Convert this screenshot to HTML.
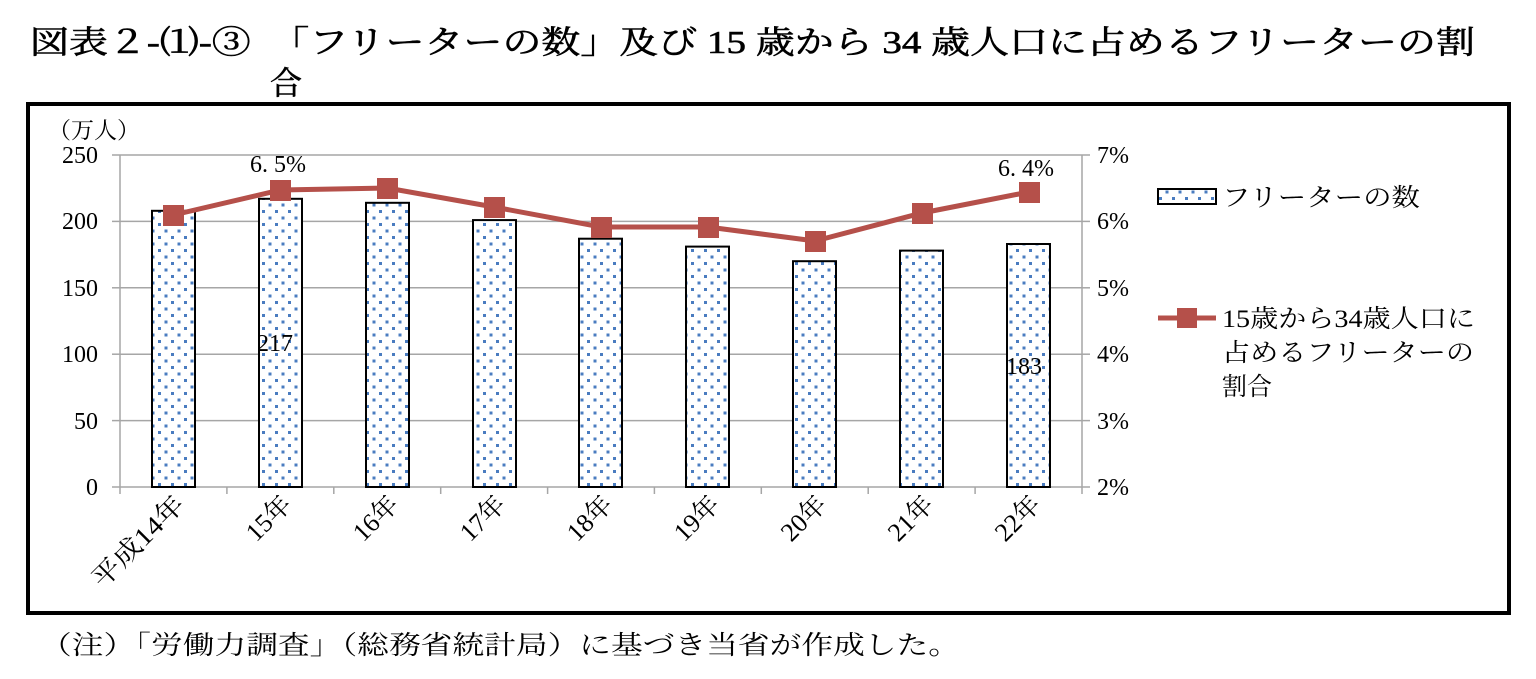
<!DOCTYPE html>
<html><head><meta charset="utf-8"><style>
body{margin:0;background:#fff;width:1536px;height:679px;overflow:hidden}
svg{display:block}
text{font-family:"Liberation Serif","Noto Serif CJK JP","Noto Serif CJK SC",serif;fill:#000}
</style></head><body>
<svg width="1536" height="679" viewBox="0 0 1536 679">
<defs>
<pattern id="dots" width="13" height="13" patternUnits="userSpaceOnUse">
<rect width="13" height="13" fill="#fff"/>
<rect x="2" y="2" width="3" height="3" fill="#4a7cc0"/>
<rect x="8.5" y="8.5" width="3" height="3" fill="#4a7cc0"/>
</pattern>
</defs>
<text x="30" y="53" font-size="32" stroke="#000" stroke-width="0.6" textLength="1445" lengthAdjust="spacingAndGlyphs">図表２-⑴-③　「フリーターの数」及び 15 歳から 34 歳人口に占めるフリーターの割</text>
<text x="270" y="94" font-size="32" stroke="#000" stroke-width="0.6">合</text>
<rect x="28" y="104" width="1481" height="509" fill="none" stroke="#000" stroke-width="4"/>
<g stroke="#a6a6a6" stroke-width="1.5">
<line x1="120" y1="155" x2="1082" y2="155"/>
<line x1="120" y1="221.4" x2="1082" y2="221.4"/>
<line x1="120" y1="287.8" x2="1082" y2="287.8"/>
<line x1="120" y1="354.2" x2="1082" y2="354.2"/>
<line x1="120" y1="420.6" x2="1082" y2="420.6"/>
<line x1="120" y1="155" x2="120" y2="487"/>
<line x1="1082" y1="155" x2="1082" y2="487"/>
<line x1="112" y1="487" x2="1090" y2="487"/>
<line x1="112" y1="155" x2="120" y2="155"/><line x1="112" y1="221.4" x2="120" y2="221.4"/><line x1="112" y1="287.8" x2="120" y2="287.8"/><line x1="112" y1="354.2" x2="120" y2="354.2"/><line x1="112" y1="420.6" x2="120" y2="420.6"/>
<line x1="1082" y1="155" x2="1090" y2="155"/><line x1="1082" y1="221.4" x2="1090" y2="221.4"/><line x1="1082" y1="287.8" x2="1090" y2="287.8"/><line x1="1082" y1="354.2" x2="1090" y2="354.2"/><line x1="1082" y1="420.6" x2="1090" y2="420.6"/>
<line x1="226.9" y1="487" x2="226.9" y2="494"/><line x1="333.8" y1="487" x2="333.8" y2="494"/><line x1="440.7" y1="487" x2="440.7" y2="494"/><line x1="547.6" y1="487" x2="547.6" y2="494"/><line x1="654.4" y1="487" x2="654.4" y2="494"/><line x1="761.3" y1="487" x2="761.3" y2="494"/><line x1="868.2" y1="487" x2="868.2" y2="494"/><line x1="975.1" y1="487" x2="975.1" y2="494"/><line x1="120" y1="487" x2="120" y2="494"/><line x1="1082" y1="487" x2="1082" y2="494"/>
</g>
<g font-size="24" text-anchor="end">
<text x="98" y="163">250</text><text x="98" y="229">200</text><text x="98" y="296">150</text><text x="98" y="362">100</text><text x="98" y="429">50</text><text x="98" y="495">0</text>
</g>
<g font-size="24">
<text x="1097" y="163">7%</text><text x="1097" y="229">6%</text><text x="1097" y="296">5%</text><text x="1097" y="362">4%</text><text x="1097" y="429">3%</text><text x="1097" y="495">2%</text>
</g>
<text x="48" y="138" font-size="23">（万人）</text>
<g fill="url(#dots)" stroke="#000" stroke-width="2">
<rect x="152" y="210.8" width="43" height="276.2"/>
<rect x="259" y="198.8" width="43" height="288.2"/>
<rect x="366" y="202.8" width="43" height="284.2"/>
<rect x="473" y="220.1" width="43" height="266.9"/>
<rect x="579" y="238.7" width="43" height="248.3"/>
<rect x="686" y="246.6" width="43" height="240.4"/>
<rect x="793" y="261.2" width="43" height="225.8"/>
<rect x="900" y="250.6" width="43" height="236.4"/>
<rect x="1007" y="244" width="43" height="243"/>
</g>
<polyline fill="none" stroke="#b5504a" stroke-width="5" points="173.4,215 280.3,190 387.2,188 494,207 601,227 708,227 815,241 922,213 1029,192"/>
<g fill="#b5504a">
<rect x="163" y="205" width="21" height="21"/><rect x="270" y="180" width="21" height="21"/><rect x="377" y="178" width="21" height="21"/><rect x="484" y="197" width="21" height="21"/><rect x="591" y="217" width="21" height="21"/><rect x="698" y="217" width="21" height="21"/><rect x="805" y="231" width="21" height="21"/><rect x="912" y="203" width="21" height="21"/><rect x="1019" y="182" width="21" height="21"/>
</g>
<text x="250" y="172" font-size="24">6. 5%</text>
<text x="998" y="176" font-size="24">6. 4%</text>
<text x="257" y="351" font-size="24">217</text>
<text x="1006" y="374" font-size="24">183</text>
<g font-size="26" text-anchor="end">
<text transform="translate(186,506) rotate(-45)" textLength="118" lengthAdjust="spacingAndGlyphs">平成14年</text>
<text transform="translate(293,506) rotate(-45)">15年</text>
<text transform="translate(400,506) rotate(-45)">16年</text>
<text transform="translate(507,506) rotate(-45)">17年</text>
<text transform="translate(614,506) rotate(-45)">18年</text>
<text transform="translate(721,506) rotate(-45)">19年</text>
<text transform="translate(828,506) rotate(-45)">20年</text>
<text transform="translate(935,506) rotate(-45)">21年</text>
<text transform="translate(1042,506) rotate(-45)">22年</text>
</g>
<rect x="1158" y="189" width="58" height="15" fill="url(#dots)" stroke="#000" stroke-width="2"/>
<text x="1222" y="206" font-size="25" textLength="198" lengthAdjust="spacingAndGlyphs">フリーターの数</text>
<line x1="1158" y1="318" x2="1216" y2="318" stroke="#b5504a" stroke-width="5"/>
<rect x="1177" y="308" width="20" height="20" fill="#b5504a"/>
<g font-size="25"><text x="1222" y="327" textLength="253" lengthAdjust="spacingAndGlyphs">15歳から34歳人口に</text><text x="1222" y="361" textLength="252" lengthAdjust="spacingAndGlyphs">占めるフリーターの</text><text x="1222" y="395">割合</text></g>
<text x="40" y="654" font-size="26" textLength="920" lengthAdjust="spacingAndGlyphs">（注）「労働力調査」（総務省統計局）に基づき当省が作成した。</text>
</svg>
</body></html>
